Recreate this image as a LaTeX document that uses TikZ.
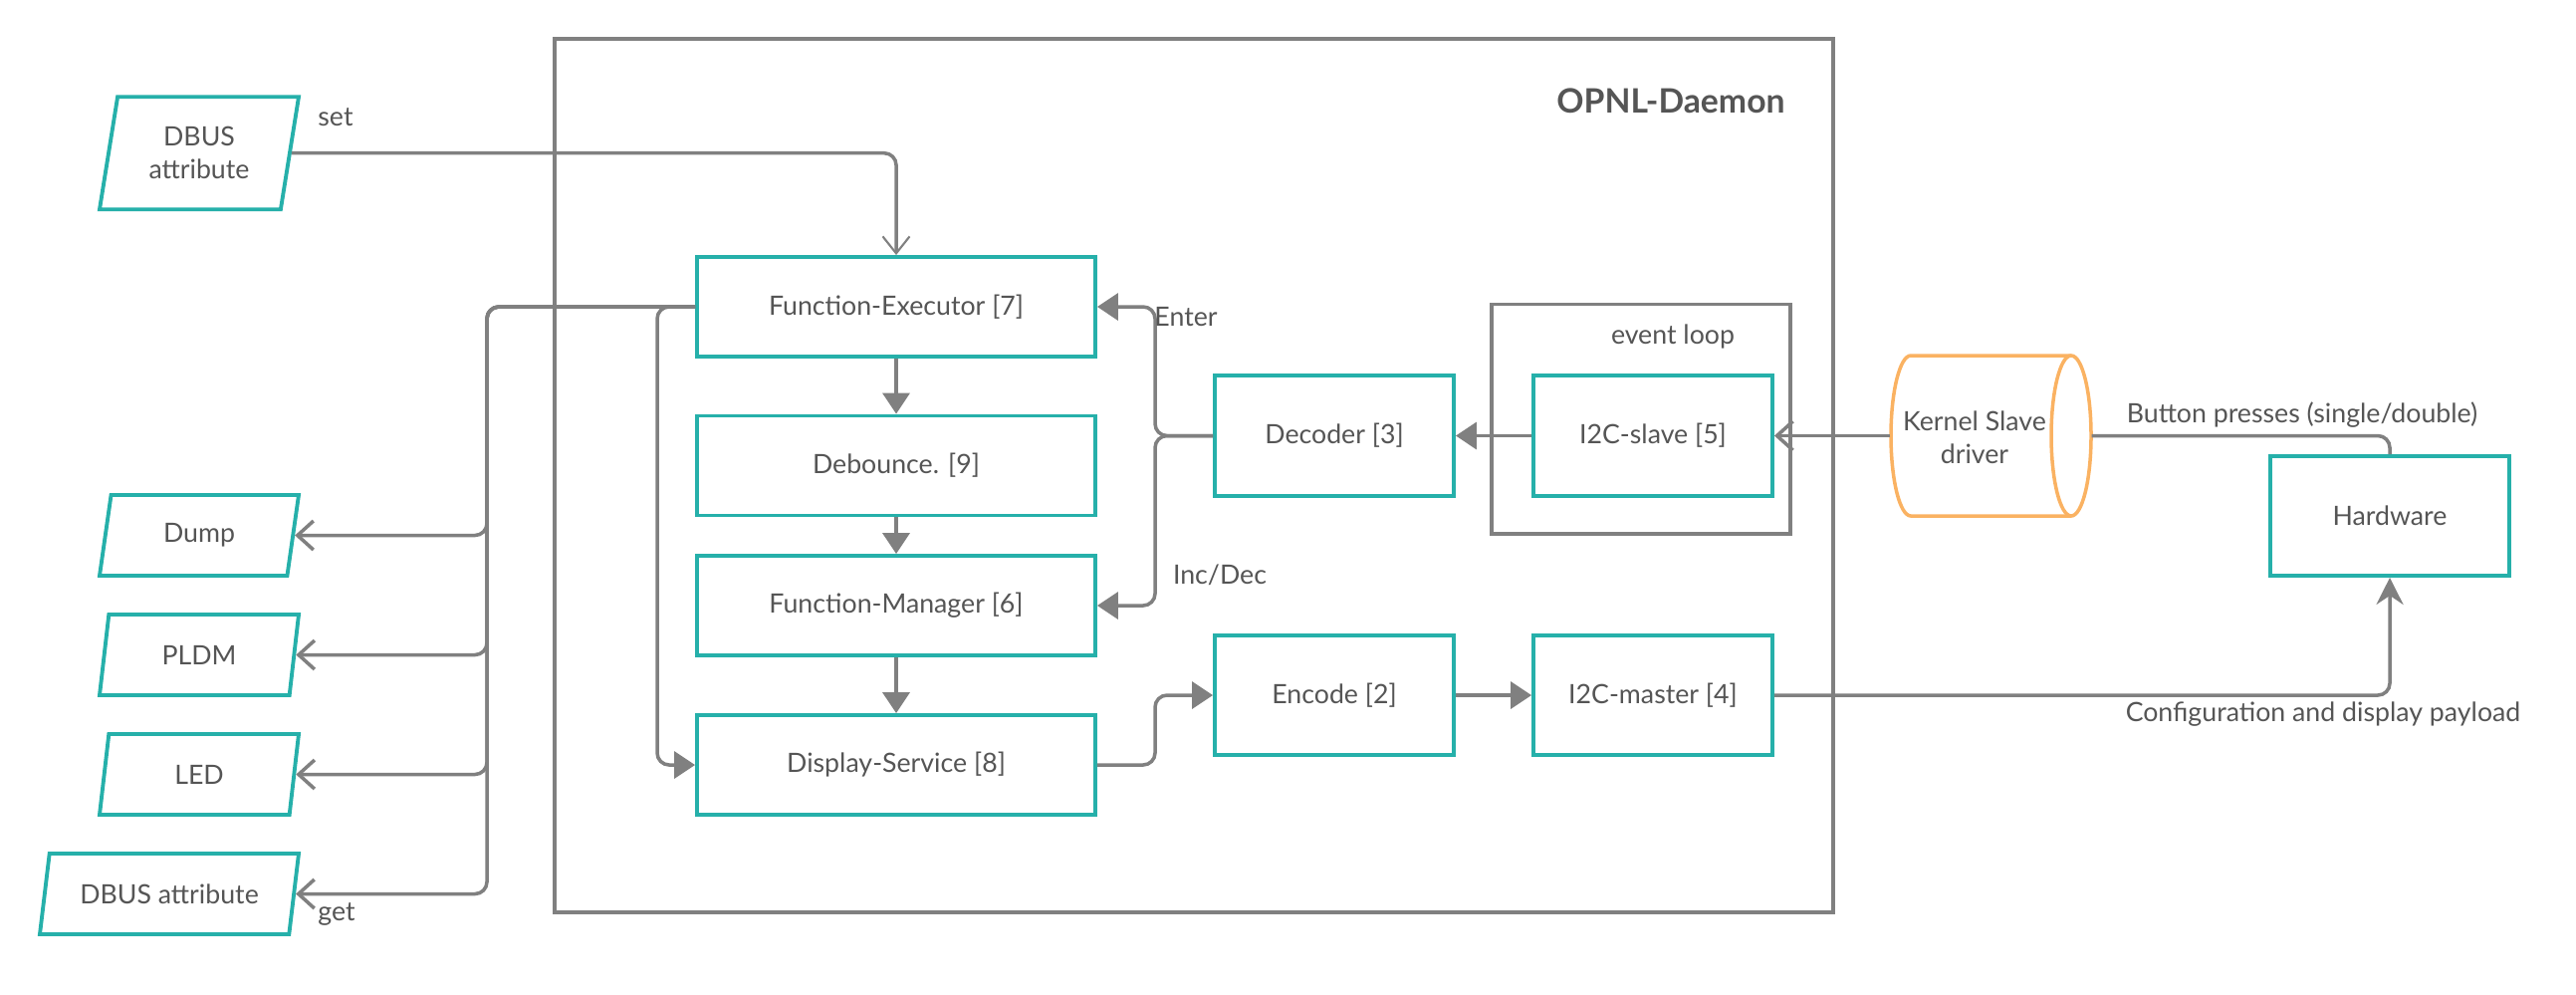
\documentclass[tikz,border=0pt]{standalone}
\usepackage{fontspec}
\setmainfont{Lato}
\usetikzlibrary{arrows.meta,shapes.geometric}
\definecolor{boxteal}{RGB}{38,176,170}
\definecolor{wiregray}{RGB}{128,128,128}
\definecolor{textgray}{RGB}{85,85,85}
\definecolor{drvorange}{RGB}{250,178,98}
\begin{document}
\begin{tikzpicture}[
    font=\fontsize{7.6}{9.4}\selectfont, text=textgray,
    block/.style={draw=boxteal, line width=1.1pt, minimum width=2.4cm, minimum height=1.2cm, inner sep=0pt},
    stage/.style={block, minimum width=4cm, minimum height=1cm},
    iobox/.style={draw=boxteal, line width=1.1pt, trapezium, trapezium stretches body, minimum width=2cm, minimum height=0.81cm, trapezium left angle=64, trapezium right angle=116, inner sep=0pt, align=center},
    frame/.style={draw=wiregray, line width=0.9pt, inner sep=0pt},
    wire/.style={draw=wiregray, line width=1pt, rounded corners=1.2mm},
    fillhead/.style={wire, -{Triangle[length=2.1mm,width=2.7mm]}},
    openhead/.style={wire, -{Straight Barb[length=1.6mm,width=2.9mm]}},
    thinhead/.style={wire, -{Straight Barb[length=1.7mm,width=2.7mm,line width=0.6pt]}},
    hwhead/.style={wire, -{Stealth[length=2.7mm,width=2.7mm,inset=0.9mm]}}
  ]
  \useasboundingbox (0,0) rectangle (25.870000,-9.980000);

  % Daemon frame and its title
  \node [frame, minimum width=12.84cm, minimum height=8.77cm] (daemon) at (11.990000,-4.775000) {};%
  \node [font=\fontsize{9.6}{11}\selectfont\bfseries] (daemontitle) at (16.780000,-1.010000) {OPNL-Daemon};%

  % Event loop frame
  \node [frame, minimum width=3.00cm, minimum height=2.305cm] (loop) at (16.480000,-4.207500) {};%
  \node (looptitle) at (16.800000,-3.380000) {event loop};%

  % Input / output parallelograms
  \node [iobox, minimum height=1.13cm, trapezium left angle=71, trapezium right angle=109] (dbusset) at (2.000000,-1.537000) {DBUS\\attribute};%
  \node [iobox] (dump) at (2.000000,-5.375000) {Dump};%
  \node [iobox] (pldm) at (2.000000,-6.575000) {PLDM};%
  \node [iobox] (led) at (2.000000,-7.775000) {LED};%
  \node [iobox, minimum width=2.6cm] (dbusget) at (1.700000,-8.975000) {DBUS attribute};%

  % Daemon stages
  \node [stage] (exec) at (9.000000,-3.080000) {Function-Executor [7]};%
  \node [stage] (debounce) at (9.000000,-4.675000) {Debounce. [9]};%
  \node [stage] (manager) at (9.000000,-6.080000) {Function-Manager [6]};%
  \node [stage] (display) at (9.000000,-7.680000) {Display-Service [8]};%

  % Decoder side and encoder side
  \node [block, minimum height=1.21cm] (decoder) at (13.400000,-4.375000) {Decoder [3]};%
  \node [block, minimum height=1.21cm] (slave) at (16.600000,-4.375000) {I2C-slave [5]};%
  \node [block] (encode) at (13.400000,-6.980000) {Encode [2]};%
  \node [block] (master) at (16.600000,-6.980000) {I2C-master [4]};%

  % Kernel driver drawn as a lying cylinder
  \node [minimum width=2.01cm, minimum height=1.61cm, inner sep=0pt] (kernel) at (19.995000,-4.375000) {};%
  \draw [drvorange, line width=1pt] (20.800000,-3.570000) -- (19.190000,-3.570000) arc (90:270:0.200000 and 0.805000) -- (20.800000,-5.180000);%
  \draw [drvorange, line width=1pt] (20.800000,-4.375000) ellipse (0.200000 and 0.805000);%
  \node [align=center] (kernellbl) at (19.830000,-4.390000) {Kernel Slave\\driver};%

  % Hardware
  \node [block] (hw) at (24.000000,-5.180000) {Hardware};%

  % Bends of the connectors
  \coordinate (busL) at (4.890000,-3.080000);%
  \coordinate (busI) at (6.600000,-3.080000);%
  \coordinate (busR) at (11.600000,-4.375000);%
  \coordinate (busE) at (11.600000,-7.680000);%

  % Drawing connectors
  \draw [thinhead] (dbusset.right side) -| (exec.north);%
  \draw [openhead] (exec.west) -- (busL) |- (dump.right side);%
  \draw [openhead] (exec.west) -- (busL) |- (pldm.right side);%
  \draw [openhead] (exec.west) -- (busL) |- (led.right side);%
  \draw [openhead] (exec.west) -- (busL) |- (dbusget.right side);%
  \draw [fillhead] (exec.west) -- (busI) |- (display.west);%
  \draw [fillhead] (exec) -- (debounce);%
  \draw [fillhead] (debounce) -- (manager);%
  \draw [fillhead] (manager) -- (display);%
  \draw [fillhead] (decoder.west) -- (busR) |- (exec.east);%
  \draw [fillhead] (decoder.west) -- (busR) |- (manager.east);%
  \draw [fillhead] (slave) -- (decoder);%
  \draw [openhead] (kernel.west) -- (slave.east);%
  \draw [wire] (hw.north) |- (kernel.east);%
  \draw [fillhead] (display.east) -- (busE) |- (encode.west);%
  \draw [fillhead] (encode) -- (master);%
  \draw [hwhead] (master.east) -| (hw.south);%

  % Connector labels
  \node (setlbl) at (3.370000,-1.180000) {set};%
  \node (getlbl) at (3.380000,-9.180000) {get};%
  \node (enterlbl) at (11.910000,-3.180000) {Enter};%
  \node (incdeclbl) at (12.250000,-5.770000) {Inc/Dec};%
  \node (presslbl) at (23.120000,-4.170000) {Button presses (single/double)};%
  \node (payloadlbl) at (23.330000,-7.170000) {Configuration and display payload};%
\end{tikzpicture}
\end{document}
